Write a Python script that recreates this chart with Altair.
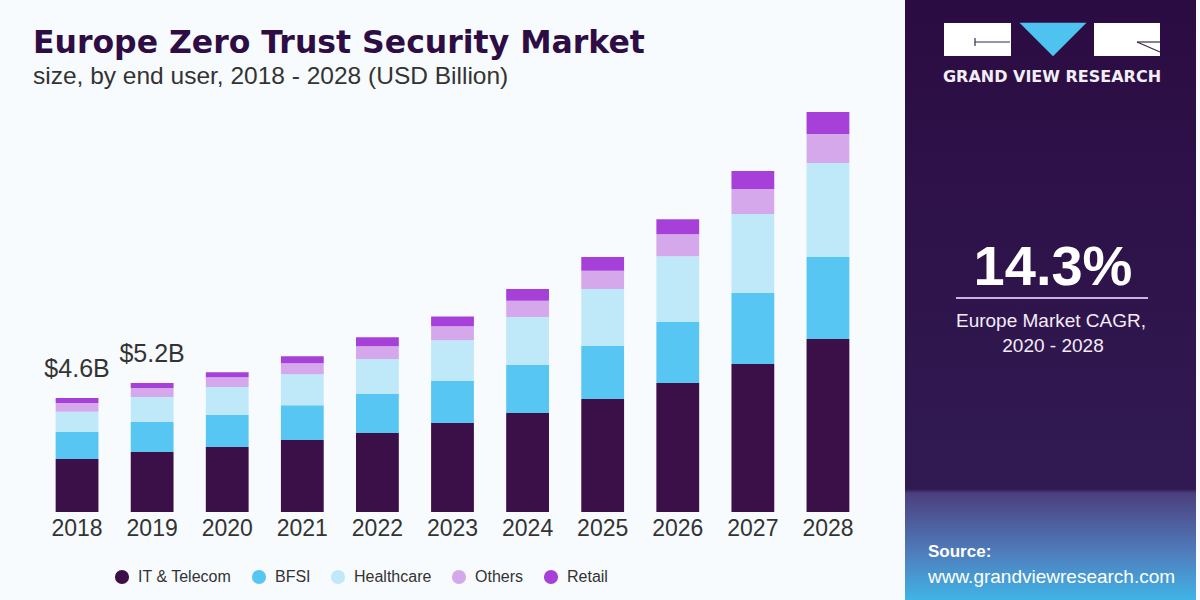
import altair as alt
import pandas as pd

# ---------------- data ----------------
years = ["2018", "2019", "2020", "2021", "2022", "2023", "2024", "2025", "2026", "2027", "2028"]
segments = ["IT & Telecom", "BFSI", "Healthcare", "Others", "Retail"]
it_telecom = [2.14, 2.42, 2.62, 2.90, 3.19, 3.59, 3.99, 4.56, 5.20, 5.97, 6.98]
bfsi       = [1.09, 1.21, 1.29, 1.41, 1.57, 1.69, 1.94, 2.14, 2.46, 2.86, 3.31]
healthcare = [0.81, 1.01, 1.13, 1.25, 1.41, 1.65, 1.94, 2.30, 2.66, 3.19, 3.79]
others     = [0.36, 0.36, 0.40, 0.44, 0.52, 0.56, 0.65, 0.73, 0.89, 1.01, 1.17]
retail     = [0.20, 0.20, 0.20, 0.28, 0.36, 0.40, 0.48, 0.56, 0.60, 0.73, 0.89]
seg_colors = ["#3b0f48", "#58c6f2", "#bfe8f9", "#d5a8ec", "#a640d8"]

label_years = ["2018", "2019"]
label_texts = ["$4.6B", "$5.2B"]

title_text = "Europe Zero Trust Security Market"
subtitle_text = "size, by end user, 2018 - 2028 (USD Billion)"
cagr_text = "14.3%"
cagr_caption = ["Europe Market CAGR,", "2020 - 2028"]
brand_text = "GRAND VIEW RESEARCH"
source_title = "Source:"
source_url = "www.grandviewresearch.com"

# ---------------- tables ----------------
series = [it_telecom, bfsi, healthcare, others, retail]
rows = []
for si, (seg, vals) in enumerate(zip(segments, series)):
    for y, v in zip(years, vals):
        rows.append({"year": y, "segment": seg, "value": v, "order": si})
df = pd.DataFrame(rows)

totals = {y: sum(s[i] for s in series) for i, y in enumerate(years)}
lab_df = pd.DataFrame({"year": label_years,
                       "total": [totals[y] for y in label_years],
                       "label": label_texts})

one = pd.DataFrame({"a": [0]})

W, H = 826, 409
PAD_L, PAD_T = 39.5, 103

x_enc = alt.X("year:N", sort=years,
              scale=alt.Scale(paddingInner=0.43, paddingOuter=0.215),
              axis=alt.Axis(title=None, labelAngle=0, ticks=False, domain=False,
                            labelFontSize=23, labelColor="#333333", labelPadding=5,
                            labelFont="Liberation Sans"))
y_scale = alt.Scale(domain=[0, 16.5], nice=False, zero=True)

bars = alt.Chart(df).mark_bar().encode(
    x=x_enc,
    y=alt.Y("value:Q", stack="zero", scale=y_scale, axis=None),
    color=alt.Color("segment:N",
                    scale=alt.Scale(domain=segments, range=seg_colors),
                    legend=alt.Legend(title=None, orient="none", direction="horizontal",
                                      legendX=74.5, legendY=466, symbolType="circle",
                                      symbolSize=200, symbolStrokeWidth=0, symbolOpacity=1,
                                      labelFontSize=16, labelColor="#333333",
                                      labelFont="Liberation Sans",
                                      labelOffset=8, columnPadding=19, padding=0)),
    order=alt.Order("order:Q", sort="ascending"),
)

labels = alt.Chart(lab_df).mark_text(fontSize=25, color="#333333", baseline="alphabetic",
                                     dy=-21, font="Liberation Sans").encode(
    x=alt.X("year:N", sort=years),
    y=alt.Y("total:Q", scale=y_scale),
    text="label:N",
)

# ---------------- decorations ----------------
title = alt.Chart(one).mark_text(text=title_text, font="DejaVu Sans", fontWeight="bold",
                                 fontSize=31.5, color="#2e0d45", align="left",
                                 baseline="alphabetic").encode(
    x=alt.value(-6.5), y=alt.value(53 - PAD_T))
subtitle = alt.Chart(one).mark_text(text=subtitle_text, font="Liberation Sans", fontSize=24.5,
                                    color="#333333", align="left", baseline="alphabetic").encode(
    x=alt.value(-6.5), y=alt.value(84 - PAD_T))

panel = alt.Chart(one).mark_rect(color=alt.Gradient(
    gradient="linear", x1=0, x2=0, y1=0, y2=1,
    stops=[alt.GradientStop(color="#2b0c42", offset=0),
           alt.GradientStop(color="#311a52", offset=0.815),
           alt.GradientStop(color="#4c3f7e", offset=0.822),
           alt.GradientStop(color="#4f7cbc", offset=0.92),
           alt.GradientStop(color="#40b4e6", offset=1)])).encode(
    x=alt.value(905 - PAD_L), x2=alt.value(1196 - PAD_L),
    y=alt.value(0 - PAD_T), y2=alt.value(600 - PAD_T))

logo_l = alt.Chart(one).mark_rect(color="white").encode(
    x=alt.value(944 - PAD_L), x2=alt.value(1011 - PAD_L),
    y=alt.value(23 - PAD_T), y2=alt.value(56 - PAD_T))
logo_r = alt.Chart(one).mark_rect(color="white").encode(
    x=alt.value(1094 - PAD_L), x2=alt.value(1160 - PAD_L),
    y=alt.value(23 - PAD_T), y2=alt.value(56 - PAD_T))
logo_tri = alt.Chart(one).mark_point(shape="M-1,-0.5L1,-0.5L0,0.5Z", filled=True, opacity=1,
                                     color="#4fc3ef", size=4489, strokeWidth=0).encode(
    x=alt.value(1053 - PAD_L), y=alt.value(39.5 - PAD_T))
logo_line1 = alt.Chart(one).mark_rule(color="#3a2a4a", strokeWidth=1.2).encode(
    x=alt.value(975 - PAD_L), x2=alt.value(1010 - PAD_L),
    y=alt.value(42 - PAD_T), y2=alt.value(42 - PAD_T))
logo_tick1 = alt.Chart(one).mark_rule(color="#3a2a4a", strokeWidth=1.2).encode(
    x=alt.value(975 - PAD_L), x2=alt.value(975 - PAD_L),
    y=alt.value(38 - PAD_T), y2=alt.value(46 - PAD_T))
logo_line2 = alt.Chart(one).mark_rule(color="#3a2a4a", strokeWidth=1.2).encode(
    x=alt.value(1137 - PAD_L), x2=alt.value(1160 - PAD_L),
    y=alt.value(42 - PAD_T), y2=alt.value(42 - PAD_T))
logo_line3 = alt.Chart(one).mark_rule(color="#3a2a4a", strokeWidth=1.2).encode(
    x=alt.value(1137 - PAD_L), x2=alt.value(1160 - PAD_L),
    y=alt.value(42 - PAD_T), y2=alt.value(52 - PAD_T))
brand = alt.Chart(one).mark_text(text=brand_text, font="DejaVu Sans", fontWeight="bold",
                                 fontSize=16, color="#f2eef6", align="center",
                                 baseline="middle").encode(
    x=alt.value(1052 - PAD_L), y=alt.value(77 - PAD_T))

cagr = alt.Chart(one).mark_text(text=cagr_text, font="Liberation Sans", fontWeight="bold",
                                fontSize=56, color="white", align="center",
                                baseline="alphabetic").encode(
    x=alt.value(1053 - PAD_L), y=alt.value(285 - PAD_T))
cagr_rule = alt.Chart(one).mark_rule(color="#c7b4e0", strokeWidth=2).encode(
    x=alt.value(956 - PAD_L), x2=alt.value(1148 - PAD_L),
    y=alt.value(298 - PAD_T), y2=alt.value(298 - PAD_T))
cap1 = alt.Chart(one).mark_text(text=cagr_caption[0], font="Liberation Sans", fontSize=19,
                                color="#f3ecf8", align="center", baseline="middle").encode(
    x=alt.value(1051 - PAD_L), y=alt.value(321 - PAD_T))
cap2 = alt.Chart(one).mark_text(text=cagr_caption[1], font="Liberation Sans", fontSize=19,
                                color="#f3ecf8", align="center", baseline="middle").encode(
    x=alt.value(1053 - PAD_L), y=alt.value(346 - PAD_T))

src1 = alt.Chart(one).mark_text(text=source_title, font="Liberation Sans", fontWeight="bold",
                                fontSize=17, color="white", align="left",
                                baseline="middle").encode(
    x=alt.value(928 - PAD_L), y=alt.value(552 - PAD_T))
src2 = alt.Chart(one).mark_text(text=source_url, font="Liberation Sans", fontSize=19,
                                color="white", align="left", baseline="middle").encode(
    x=alt.value(928 - PAD_L), y=alt.value(577 - PAD_T))

chart = alt.layer(
    panel, logo_l, logo_r, logo_tri, logo_line1, logo_tick1, logo_line2, logo_line3, brand,
    cagr, cagr_rule, cap1, cap2, src1, src2, title, subtitle, bars, labels
).properties(
    width=W, height=H,
    autosize=alt.AutoSizeParams(type="none"),
    padding={"left": PAD_L, "top": PAD_T, "right": 1200 - PAD_L - W, "bottom": 600 - PAD_T - H},
    background="#f8fbfd",
).configure_view(stroke=None)

chart.save("out.html", embed_options={"renderer": "svg", "actions": False})
